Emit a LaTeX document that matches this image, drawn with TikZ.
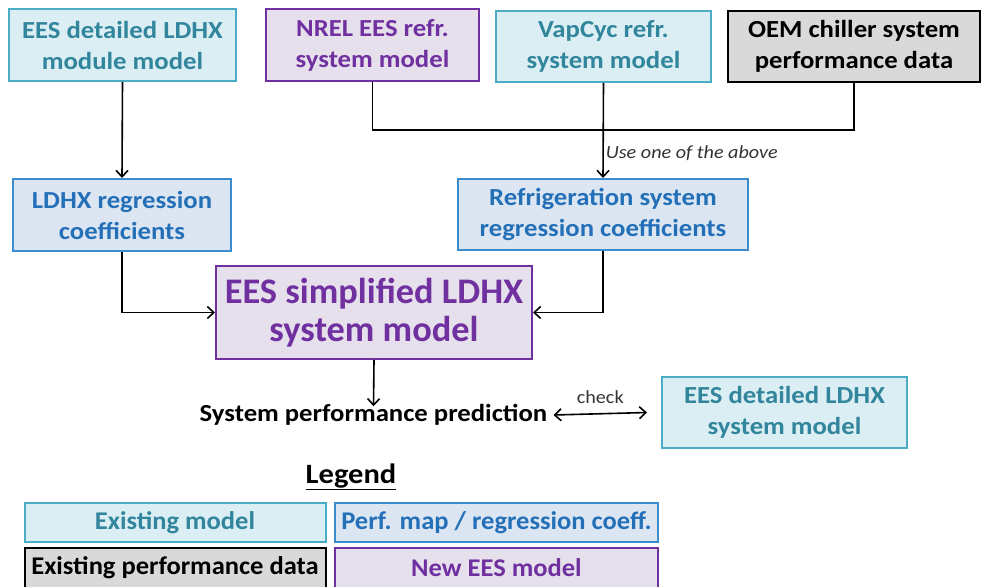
\documentclass[tikz,border=0pt]{standalone}
\usepackage{fontspec}
\setmainfont{Carlito}[FakeStretch=1.09]
\newfontfamily\bigfont{Carlito}[FakeStretch=1.01]
\newfontfamily\legfont{Carlito}[FakeStretch=1.04]
\usetikzlibrary{arrows.meta}
\definecolor{exfill}{HTML}{DAEEF3}
\definecolor{exdraw}{HTML}{4BACC6}
\definecolor{extext}{HTML}{31859C}
\definecolor{pmfill}{HTML}{DCE6F2}
\definecolor{pmdraw}{HTML}{3C8DD0}
\definecolor{pmtext}{HTML}{2470B8}
\definecolor{dtfill}{HTML}{D9D9D9}
\definecolor{nwfill}{HTML}{E6E0EC}
\definecolor{nwdraw}{HTML}{7030A0}
\tikzset{
  box/.style={draw, line width=2pt, align=center, inner sep=0pt,
    font=\fontsize{24.5}{31}\selectfont\bfseries},
  exbox/.style={box, fill=exfill, draw=exdraw, text=extext},
  pmbox/.style={box, fill=pmfill, draw=pmdraw, text=pmtext},
  dtbox/.style={box, fill=dtfill, draw=black, text=black},
  nwbox/.style={box, fill=nwfill, draw=nwdraw, text=nwdraw},
  legbox/.style={font=\legfont\fontsize{25.5}{30}\selectfont\bfseries},
  mytip/.tip={Straight Barb[length=6.5pt,width=12pt,line width=1.6pt]},
  conn/.style={line width=1.6pt, -{mytip}},
  plain/.style={line width=1.6pt},
  small/.style={font=\fontsize{18.5}{22}\selectfont, text=black!80},
}
\begin{document}
\begin{tikzpicture}[x=1pt,y=-1pt]
\useasboundingbox (0,0) rectangle (982,586);
% top row
\node[exbox, minimum width=227pt, minimum height=72pt] (b1) at (122.5,45) {EES detailed LDHX\\module model};
\node[nwbox, minimum width=213pt, minimum height=72pt] (b2) at (372.5,45) {NREL EES refr.\\system model};
\node[exbox, minimum width=215pt, minimum height=71pt] (b3) at (603.5,46.5) {VapCyc refr.\\system model};
\node[dtbox, minimum width=252pt, minimum height=71pt] (b4) at (854,46.5) {OEM chiller system\\performance data};
% second row
\node[pmbox, minimum width=218pt, minimum height=72pt] (b5) at (122,215) {LDHX regression\\coefficients};
\node[pmbox, minimum width=290pt, minimum height=71pt] (b6) at (603,214.5) {Refrigeration system\\regression coefficients};
% main
\node[nwbox, minimum width=316pt, minimum height=93pt, font=\bigfont\fontsize{36}{38}\selectfont\bfseries] (m) at (374,312.5) {EES simplified LDHX\\system model};
% prediction
\node[inner sep=1pt, font=\fontsize{24.5}{30}\selectfont\bfseries] (p) at (373.5,415) {System performance prediction};
\node[exbox, minimum width=245pt, minimum height=71pt] (b8) at (784.5,412.5) {EES detailed LDHX\\system model};
% connectors
\coordinate (j2) at (b2.south |- 0,130);
\coordinate (j4) at (b4.south |- 0,130);
\draw[plain] (b2.south) -- (j2) -- (j4) -- (b4.south);
\draw[conn] (b3.south) -- (b6.north) node[pos=0.74, right, inner sep=2pt, small, font=\fontsize{18.5}{22}\selectfont\itshape] (u) {Use one of the above};
\draw[conn] (b1.south) -- (b5.north);
\draw[conn] (b5.south) |- (m.west);
\draw[conn] (b6.south) |- (m.east);
\draw[conn] (m.south) -- ([yshift=-3pt]p.north);
\coordinate (pe) at ([xshift=5pt]p.east);
\coordinate (be) at ([xshift=-14pt]b8.west);
\draw[line width=1.6pt, {mytip}-{mytip}] (pe) -- (be)
  node[midway, above=6pt, small] (ck) {check};
% legend
\node[font=\fontsize{28}{30}\selectfont\bfseries, inner sep=0pt] (lg) at (351,477) {\underline{Legend}};
\node[exbox, legbox, minimum width=301pt, minimum height=39pt] (l1) at (175,522.5) {Existing model};
\node[pmbox, legbox, minimum width=323pt, minimum height=39pt] (l2) at (496.5,522.5) {Perf. map / regression coeff.};
\node[dtbox, legbox, minimum width=301pt, minimum height=40pt] (l3) at (175,568) {Existing performance data};
\node[nwbox, legbox, minimum width=323pt, minimum height=40pt] (l4) at (496.5,568) {New EES model};
\end{tikzpicture}
\end{document}
